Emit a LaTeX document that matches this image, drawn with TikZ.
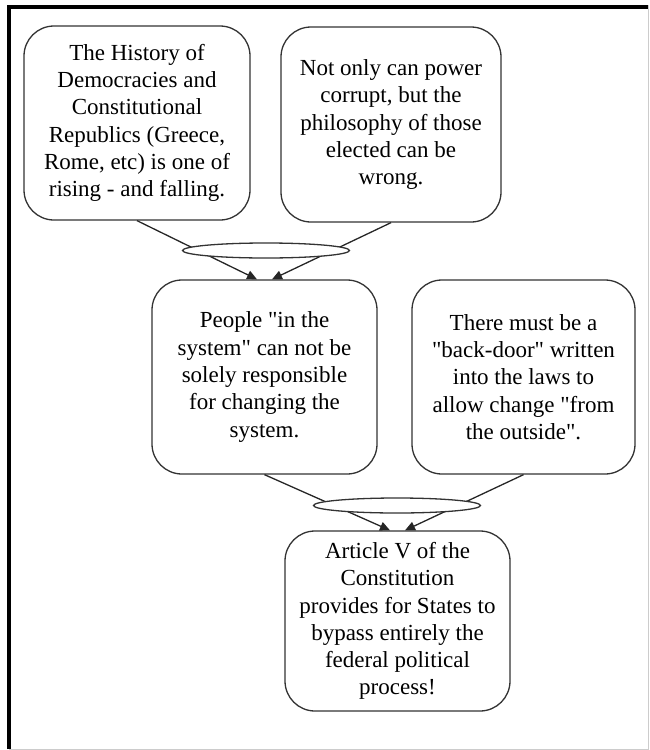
\documentclass[tikz,border=0pt]{standalone}
\usepackage{fontspec}
\newfontfamily\claimfont{Liberation Serif}[Ligatures=NoCommon]
\newcommand\dq{\char34\relax}
\usetikzlibrary{arrows.meta,shapes.geometric}
\begin{document}
\begin{tikzpicture}[x=1pt,y=-1pt,
  claim/.style={draw=black!80, line width=1.3pt, rounded corners=30pt,
    fill=white, align=center, inner sep=0pt,
    font=\claimfont\fontsize{23}{27.3}\selectfont},
  junction/.style={ellipse, draw=black!80, line width=1.3pt, fill=white,
    minimum width=167pt, minimum height=15pt, inner sep=0pt},
  link/.style={draw=black!85, line width=1.3pt,
    -{Triangle[length=10pt,width=9pt]}}]
\useasboundingbox (0,0) rectangle (650,750);
% window frame
\draw[black!20, line width=1pt] (648,5) -- (648,749) -- (9,749);
\draw[black, line width=4pt] (9,749) -- (9,7) -- (648,7);

% claims
\node[claim, minimum width=226pt, minimum height=194pt] (hist) at (137,123)
  {The History of\\Democracies and\\Constitutional\\Republics (Greece,\\Rome, etc) is one of\\rising - and falling.};
\node[claim, minimum width=220pt, minimum height=195pt] (power) at (391,124.5)
  {Not only can power\\corrupt, but the\\philosophy of those\\elected can be\\wrong.};
\node[claim, minimum width=225pt, minimum height=194pt] (people) at (264.5,377)
  {People \dq in the\\system\dq{} can not be\\solely responsible\\for changing the\\system.};
\node[claim, minimum width=223pt, minimum height=194pt] (door) at (523.5,377)
  {There must be a\\\dq back-door\dq{} written\\into the laws to\\allow change \dq from\\the outside\dq.};
\node[claim, minimum width=225pt, minimum height=180pt] (art) at (397.5,621)
  {Article V of the\\Constitution\\provides for States to\\bypass entirely the\\federal political\\process!};

% supporting links
\draw[link] (hist.south) -- ([xshift=-7.5pt]people.north);
\draw[link] (power.south) -- ([xshift=7.5pt]people.north);
\draw[link] (people.south) -- ([xshift=-7.5pt]art.north);
\draw[link] (door.south) -- ([xshift=7.5pt]art.north);

% junctions joining the premises
\node[junction] (j1) at (266,250.5) {};
\node[junction] (j2) at (397,505.5) {};
\end{tikzpicture}
\end{document}
